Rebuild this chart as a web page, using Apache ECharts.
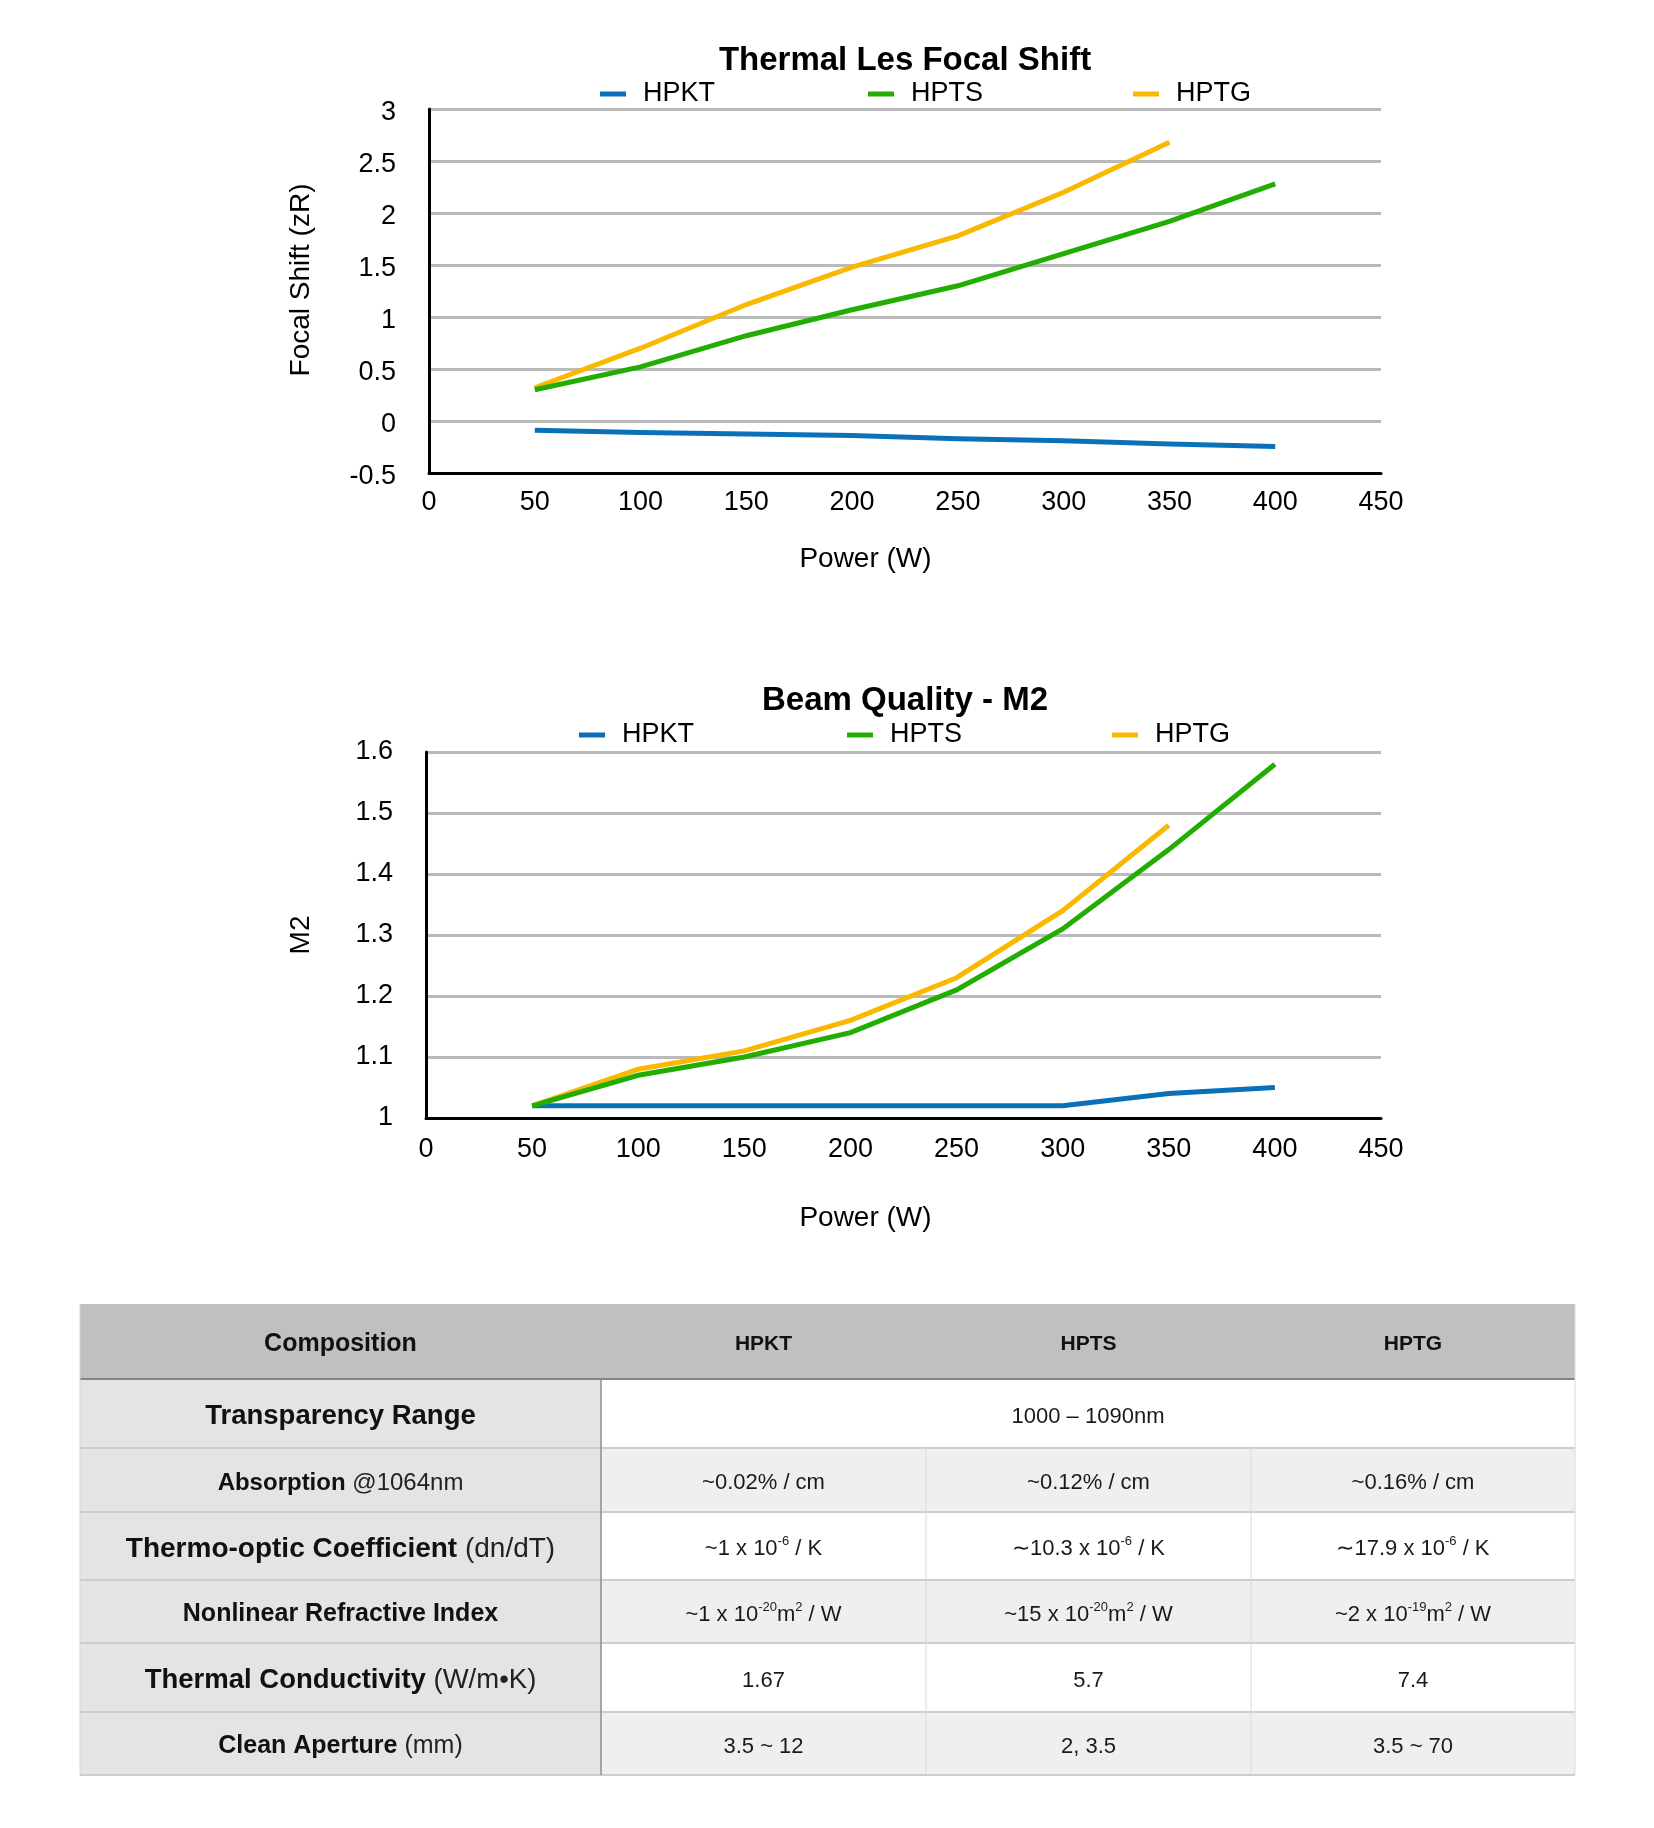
<!DOCTYPE html>
<html><head><meta charset="utf-8">
<script src="https://cdn.jsdelivr.net/npm/echarts@6/dist/echarts.min.js"></script>
<style>html,body{margin:0;padding:0;background:#fff}#c{width:1654px;height:1828px}</style>
</head><body><div id="c"></div>
<script>
// ---------- DATA ----------
const seriesNames = ['HPKT', 'HPTS', 'HPTG'];
const power = [50, 100, 150, 200, 250, 300, 350, 400];
const focalHPKT = [-0.09, -0.11, -0.125, -0.14, -0.17, -0.19, -0.22, -0.245];
const focalHPTS = [0.30, 0.52, 0.82, 1.07, 1.30, 1.61, 1.92, 2.28];
const focalHPTG = [0.32, 0.70, 1.12, 1.48, 1.78, 2.20, 2.68];
const m2HPKT = [1.02, 1.02, 1.02, 1.02, 1.02, 1.02, 1.04, 1.05];
const m2HPTS = [1.02, 1.07, 1.10, 1.14, 1.21, 1.31, 1.44, 1.58];
const m2HPTG = [1.02, 1.08, 1.11, 1.16, 1.23, 1.34, 1.48];

const title1 = 'Thermal Les Focal Shift';
const title2 = 'Beam Quality - M2';
const xName = 'Power (W)';
const yName1 = 'Focal Shift (zR)';
const yName2 = 'M2';

const tableHeader = ['Composition', 'HPKT', 'HPTS', 'HPTG'];
const rowBold = ['Transparency Range', 'Absorption', 'Thermo-optic Coefficient', 'Nonlinear Refractive Index', 'Thermal Conductivity', 'Clean Aperture'];
const rowUnit = ['', '@1064nm', '(dn/dT)', '', '(W/m•K)', '(mm)'];
const transparencyRange = '1000 – 1090nm';
const valHPKT = ['~0.02% / cm', '~1 x 10^{-6} / K', '~1 x 10^{-20}m^{2} / W', '1.67', '3.5 ~ 12'];
const valHPTS = ['~0.12% / cm', '∼10.3 x 10^{-6} / K', '~15 x 10^{-20}m^{2} / W', '5.7', '2, 3.5'];
const valHPTG = ['~0.16% / cm', '∼17.9 x 10^{-6} / K', '~2 x 10^{-19}m^{2} / W', '7.4', '3.5 ~ 70'];

// ---------- STYLE ----------
const FONT = '"Liberation Sans", Arial, Helvetica, sans-serif';
const colors = { HPKT: '#0a71b9', HPTS: '#22ad02', HPTG: '#f8b900' };
const pairs = (xs, ys) => ys.map((v, i) => [xs[i], v]);

function lineSeries(name, data, xi, z) {
  return {
    type: 'line', name, xAxisIndex: xi, yAxisIndex: xi, data: pairs(power, data),
    showSymbol: false, symbol: 'none', z,
    lineStyle: { width: 5, color: colors[name], join: 'miter' },
    itemStyle: { color: colors[name] }, emphasis: { disabled: true }, animation: false
  };
}

function xAxisCfg(gi, labelMargin, nameGap, padRight) {
  return {
    type: 'value', gridIndex: gi, min: 0, max: 450, interval: 50,
    axisLine: { show: true, onZero: false, lineStyle: { color: '#000', width: 3 } },
    axisTick: { show: false }, splitLine: { show: false },
    axisLabel: { color: '#000', fontSize: 27, fontFamily: FONT, margin: labelMargin },
    name: xName, nameLocation: 'middle', nameGap,
    nameTextStyle: { color: '#000', fontSize: 28, fontFamily: FONT, padding: [0, padRight, 0, 0] }
  };
}
function yAxisCfg(gi, min, max, interval, name, nameGap, padLeft, lowered) {
  const label = { color: '#000', fontSize: 27, fontFamily: FONT, margin: 33 };
  if (lowered) { label.verticalAlign = 'top'; label.lineHeight = 8; }
  return {
    type: 'value', gridIndex: gi, min, max, interval,
    axisLine: { show: true, onZero: false, lineStyle: { color: '#000', width: 3 } },
    axisTick: { show: false },
    splitLine: { show: true, lineStyle: { color: '#bababa', width: 3 } },
    axisLabel: label,
    name, nameLocation: 'middle', nameGap, nameRotate: 90,
    nameTextStyle: { color: '#000', fontSize: 28, fontFamily: FONT, padding: [0, 0, 0, padLeft] }
  };
}
function legendCfg(name, left, top) {
  return {
    data: [name], left, top, padding: 0, itemWidth: 26, itemHeight: 5, icon: 'rect',
    selectedMode: false,
    textStyle: { color: '#000', fontSize: 27, fontFamily: FONT, lineHeight: 30, padding: [0, 0, 0, 12] }
  };
}

// ---------- TABLE (graphic) ----------
const TX = [80, 601, 926, 1251, 1575];
const TY = [1304, 1379, 1448, 1512, 1580, 1643, 1712, 1775];
const labelSizes = [27.5, 24, 28, 25, 27.5, 25];
const TDY = 3;

function toRich(s) {
  return s.split(/\^\{([^}]*)\}/).map((p, i) => p === '' ? '' : (i % 2 ? '{s|' + p + '}' : '{r|' + p + '}')).join('');
}
const valueRich = {
  r: { fontSize: 22, fontFamily: FONT, fill: '#1a1a1a', lineHeight: 28, verticalAlign: 'middle' },
  s: { fontSize: 13, fontFamily: FONT, fill: '#1a1a1a', lineHeight: 15, verticalAlign: 'top' }
};

const els = [];
els.push({ type: 'rect', shape: { x: TX[0], y: TY[0], width: TX[4] - TX[0], height: TY[1] - TY[0] }, style: { fill: '#bfc0bf' } });
for (let r = 0; r < 6; r++) {
  const y0 = TY[r + 1], h = TY[r + 2] - TY[r + 1];
  els.push({ type: 'rect', shape: { x: TX[0], y: y0, width: TX[1] - TX[0], height: h }, style: { fill: '#e3e4e3' } });
  els.push({ type: 'rect', shape: { x: TX[1], y: y0, width: TX[4] - TX[1], height: h }, style: { fill: r % 2 ? '#efefef' : '#ffffff' } });
}
els.push({ type: 'line', shape: { x1: TX[0], y1: TY[1], x2: TX[4], y2: TY[1] }, style: { stroke: '#858585', lineWidth: 2 } });
for (let k = 2; k < TY.length; k++) {
  els.push({ type: 'line', shape: { x1: TX[0], y1: TY[k], x2: TX[4], y2: TY[k] }, style: { stroke: '#cdcdcd', lineWidth: 2 } });
}
els.push({ type: 'line', shape: { x1: TX[1], y1: TY[1], x2: TX[1], y2: TY[7] }, style: { stroke: '#8e8e8e', lineWidth: 1.5 } });
for (const c of [2, 3]) {
  els.push({ type: 'line', shape: { x1: TX[c], y1: TY[2], x2: TX[c], y2: TY[7] }, style: { stroke: '#dadada', lineWidth: 1 } });
}
els.push({ type: 'line', shape: { x1: TX[4], y1: TY[0], x2: TX[4], y2: TY[7] }, style: { stroke: '#dadada', lineWidth: 1 } });
els.push({ type: 'line', shape: { x1: TX[0], y1: TY[0], x2: TX[0], y2: TY[7] }, style: { stroke: '#d5d5d5', lineWidth: 1 } });
tableHeader.forEach((t, c) => {
  els.push({ type: 'text', x: (TX[c] + TX[c + 1]) / 2, y: (TY[0] + TY[1]) / 2 + TDY,
    style: { text: t, fontSize: c === 0 ? 25 : 21, fontWeight: 'bold', fontFamily: FONT, fill: '#111', align: 'center', verticalAlign: 'middle' } });
});
rowBold.forEach((b, r) => {
  const fs = labelSizes[r];
  const txt = '{b|' + b + '}' + (rowUnit[r] ? '{u| ' + rowUnit[r] + '}' : '');
  els.push({ type: 'text', x: (TX[0] + TX[1]) / 2, y: (TY[r + 1] + TY[r + 2]) / 2 + TDY,
    style: { text: txt, align: 'center', verticalAlign: 'middle',
      rich: { b: { fontSize: fs, fontWeight: 'bold', fontFamily: FONT, fill: '#111' },
              u: { fontSize: fs, fontFamily: FONT, fill: '#222' } } } });
});
els.push({ type: 'text', x: (TX[1] + TX[4]) / 2, y: (TY[1] + TY[2]) / 2 + TDY,
  style: { text: toRich(transparencyRange), rich: valueRich, align: 'center', verticalAlign: 'middle' } });
[valHPKT, valHPTS, valHPTG].forEach((vals, c) => {
  vals.forEach((v, i) => {
    const r = i + 1;
    els.push({ type: 'text', x: (TX[c + 1] + TX[c + 2]) / 2, y: (TY[r + 1] + TY[r + 2]) / 2 + TDY,
      style: { text: toRich(v), rich: valueRich, align: 'center', verticalAlign: 'middle' } });
  });
});

// ---------- CHART ----------
const chart = echarts.init(document.getElementById('c'), null, { renderer: 'canvas' });
chart.setOption({
  animation: false,
  backgroundColor: '#ffffff',
  textStyle: { fontFamily: FONT },
  title: [
    { text: title1, left: 905, top: 44, padding: 0, textAlign: 'center',
      textStyle: { fontSize: 33, fontWeight: 'bold', color: '#000', fontFamily: FONT } },
    { text: title2, left: 905, top: 684, padding: 0, textAlign: 'center',
      textStyle: { fontSize: 33, fontWeight: 'bold', color: '#000', fontFamily: FONT } }
  ],
  legend: [
    legendCfg('HPKT', 600, 79), legendCfg('HPTS', 868, 79), legendCfg('HPTG', 1133, 79),
    legendCfg('HPKT', 579, 720), legendCfg('HPTS', 847, 720), legendCfg('HPTG', 1112, 720)
  ],
  grid: [
    { left: 429, top: 109, width: 952, height: 364, containLabel: false },
    { left: 426, top: 752, width: 955, height: 366, containLabel: false }
  ],
  xAxis: [xAxisCfg(0, 16, 72, 79), xAxisCfg(1, 18, 86, 76)],
  yAxis: [yAxisCfg(0, -0.5, 3, 0.5, yName1, 114, 22, true), yAxisCfg(1, 1, 1.6, 0.1, yName2, 111, 0, false)],
  series: [
    lineSeries('HPKT', focalHPKT, 0, 2),
    lineSeries('HPTG', focalHPTG, 0, 2),
    lineSeries('HPTS', focalHPTS, 0, 2),
    lineSeries('HPKT', m2HPKT, 1, 2),
    lineSeries('HPTG', m2HPTG, 1, 2),
    lineSeries('HPTS', m2HPTS, 1, 2)
  ],
  graphic: { elements: els }
});
</script>
</body></html>
